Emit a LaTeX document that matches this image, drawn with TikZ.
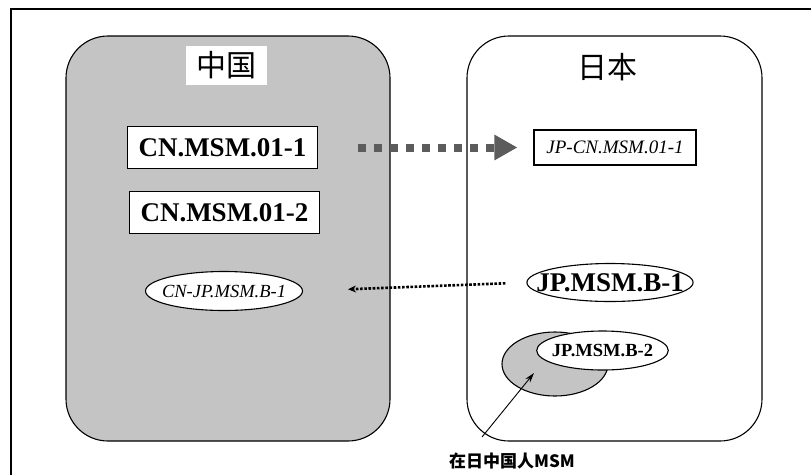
\documentclass[tikz,border=0pt]{standalone}
\usepackage{fontspec}
\setmainfont{Liberation Serif}
\newfontfamily\cjk{Noto Sans CJK SC}
\usetikzlibrary{positioning,arrows.meta,shapes.geometric}
\definecolor{cngray}{gray}{0.77}
\definecolor{arrgray}{gray}{0.36}

\begin{document}
\begin{tikzpicture}[x=1pt,y=-1pt,line width=1.1pt,
       region/.style={draw,rounded corners=42pt,line width=1.1pt},
       title/.style={font=\cjk\fontsize{30}{32}\selectfont,inner sep=0pt},
       msmbox/.style={draw,fill=white,minimum width=190pt,minimum height=42pt,inner sep=2pt,
                      font=\fontsize{27}{30}\selectfont\bfseries},
       msmell/.style={draw,fill=white,ellipse,inner ysep=0pt},
       jpbox/.style={draw,fill=white,minimum width=162pt,minimum height=35pt,inner sep=2pt,
                     font=\fontsize{19}{22}\selectfont\itshape}]
      \useasboundingbox (0,0) rectangle (811,475);
      \draw (11,475) -- (11,9) -- (811,9);
      % the two countries
      \node[region,fill=cngray,minimum width=324pt,minimum height=405pt] (CNarea) at (228,238.5) {};
      \node[region,minimum width=295pt,minimum height=405pt] (JParea) at (614.5,238.5) {};
      \node[title,fill=white,minimum width=81pt,minimum height=39pt] (CNtitle) at (226.5,65.5) {中国};
      \node[title] (JPtitle) at (607,67) {日本};
      % strains in China
      \node[msmbox] (CN1) at (222.5,147.5) {CN.MSM.01-1};
      \node[msmbox] (CN2) at (224.5,212.5) {CN.MSM.01-2};
      \node[msmell,inner xsep=-6.5pt,minimum height=39pt,font=\fontsize{18.5}{20}\selectfont\itshape] (CNJP) at (224,291) {CN-JP.MSM.B-1};
      % strains in Japan
      \node[jpbox] (JPCN) at (615,147.5) {JP-CN.MSM.01-1};
      \node[msmell,inner xsep=-15pt,minimum height=38pt,font=\fontsize{27}{30}\selectfont\bfseries] (JPB1) at (610,282.5) {JP.MSM.B-1};
      \node[draw,ellipse,fill=cngray,minimum width=106pt,minimum height=64pt] (CNinJP) at (555,364) {};
      \node[msmell,inner xsep=-4pt,minimum height=39pt,font=\fontsize{18.5}{20}\selectfont\bfseries] (JPB2) at (602.5,350.5) {JP.MSM.B-2};
      \node[font=\cjk\bfseries\fontsize{17}{19}\selectfont,inner sep=0pt] (lbl) at (512,461) {在日中国人MSM};
      \coordinate (tail) at (482,437);
      \coordinate (inner) at (534,373);
      % transfers
      \draw[arrgray,line width=8pt,dash pattern=on 8pt off 8pt,-{Triangle[length=23pt,width=24pt]},
            shorten <=40pt,shorten >=16pt] (CN1.east) -- (JPCN.west);
      \draw[line width=2.6pt,dash pattern=on 2.6pt off 1.6pt,-{Stealth[length=8pt,width=7pt]},
            shorten <=21pt,shorten >=45pt] (JPB1.west) -- (CNJP.east);
      \draw[line width=0.9pt,-{Stealth[length=10pt,width=6pt]}] (tail) -- (inner);
    \end{tikzpicture}
\end{document}
